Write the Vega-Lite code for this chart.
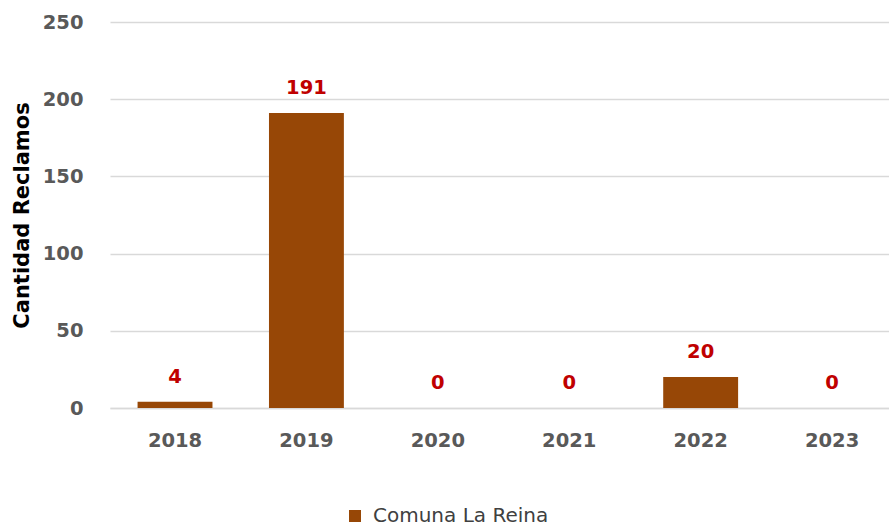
{
  "$schema": "https://vega.github.io/schema/vega-lite/v6.json",
  "width": 779,
  "height": 386,
  "autosize": {"type": "none"},
  "padding": {"left": 110, "top": 22, "right": 0, "bottom": 118},
  "background": "white",
  "config": {"view": {"stroke": null}, "font": "DejaVu Sans"},
  "data": {"values": [
    {"year": "2018", "value": 4, "serie": "Comuna La Reina"},
    {"year": "2019", "value": 191, "serie": "Comuna La Reina"},
    {"year": "2020", "value": 0, "serie": "Comuna La Reina"},
    {"year": "2021", "value": 0, "serie": "Comuna La Reina"},
    {"year": "2022", "value": 20, "serie": "Comuna La Reina"},
    {"year": "2023", "value": 0, "serie": "Comuna La Reina"}
  ]},
  "encoding": {
    "x": {"field": "year", "type": "nominal", "scale": {"paddingInner": 0.43, "paddingOuter": 0.179, "align": 0.586},
      "axis": {"title": null, "labelAngle": 0, "labelFont": "DejaVu Sans", "labelFontSize": 19.5, "labelFontWeight": "bold", "labelColor": "#595959", "ticks": false, "domainColor": "#d9d9d9", "domainWidth": 1.5, "labelPadding": 23}},
    "y": {"field": "value", "type": "quantitative", "scale": {"domain": [0, 250]},
      "axis": {"values": [0, 50, 100, 150, 200, 250], "title": "Cantidad Reclamos", "titleFont": "DejaVu Sans", "titleFontSize": 21, "titleFontWeight": "bold", "titleColor": "#000000", "titlePadding": 10,
        "labelFont": "DejaVu Sans", "labelFontSize": 19.5, "labelFontWeight": "bold", "labelColor": "#595959", "labelPadding": 27, "ticks": false, "domain": false, "gridColor": "#d9d9d9", "gridWidth": 1.5}}
  },
  "layer": [
    {"mark": {"type": "bar", "color": "#974706"},
     "encoding": {"color": {"field": "serie", "type": "nominal", "scale": {"range": ["#974706"]},
       "legend": {"title": null, "orient": "none", "legendX": 235, "legendY": 484, "symbolType": "square", "symbolSize": 144, "symbolStrokeWidth": 0, "labelFont": "DejaVu Sans", "labelFontSize": 20, "labelColor": "#404040", "labelOffset": 8, "labelLimit": 400}}}},
    {"mark": {"type": "text", "dy": -25, "color": "#C00000", "font": "DejaVu Sans", "fontSize": 19.5, "fontWeight": "bold"},
     "encoding": {"text": {"field": "value", "type": "quantitative"}}}
  ]
}
